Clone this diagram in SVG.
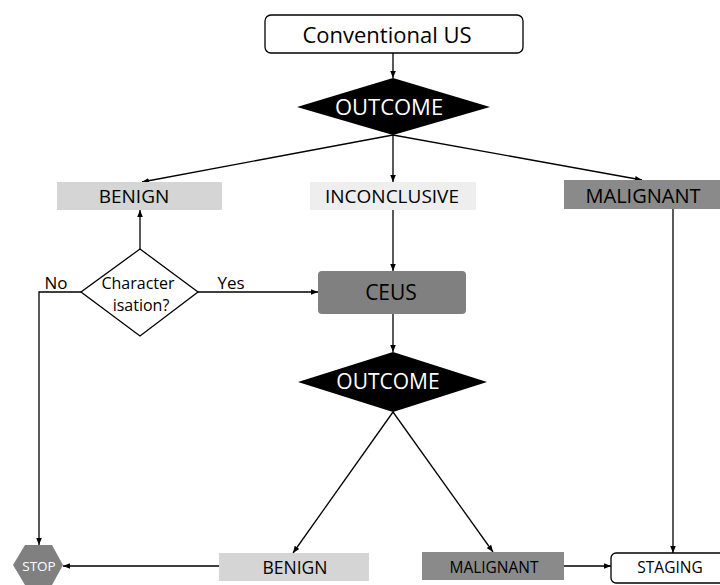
<svg xmlns="http://www.w3.org/2000/svg" width="720" height="585" viewBox="0 0 720 585">
<defs>
<style>
text{font-family:"Open Sans","Noto Sans","Liberation Sans",sans-serif;text-anchor:middle;dominant-baseline:central;fill:#000}
.c line,.c polyline{stroke:#000;stroke-width:1.3;fill:none}
.a{marker-end:url(#ah)}
.w{fill:#fff}
</style>
<marker id="ah" viewBox="0 0 10 10" refX="10" refY="5" markerWidth="7" markerHeight="7" markerUnits="userSpaceOnUse" orient="auto">
<path d="M0,1 L10,5 L0,9 z" fill="#000"/>
</marker>
</defs>
<rect width="720" height="585" fill="#fff"/>
<g class="c" id="connectors">
<line class="a" x1="393" y1="53" x2="393" y2="78"/>
<line class="a" x1="393" y1="135" x2="142" y2="182"/>
<line class="a" x1="393" y1="135" x2="393" y2="182"/>
<line class="a" x1="393" y1="135" x2="642" y2="180"/>
<line class="a" x1="140" y1="249" x2="140" y2="210"/>
<line class="a" x1="198" y1="292" x2="318" y2="292"/>
<polyline class="a" points="81,292 39,292 39,545"/>
<line class="a" x1="393" y1="210" x2="393" y2="271"/>
<line class="a" x1="393" y1="314" x2="393" y2="352"/>
<line class="a" x1="393" y1="412" x2="293" y2="553"/>
<line class="a" x1="393" y1="412" x2="493" y2="552"/>
<line class="a" x1="673" y1="209" x2="673" y2="553"/>
<line class="a" x1="219" y1="566" x2="63" y2="566"/>
<line class="a" x1="564" y1="566" x2="611" y2="566"/>
</g>
<g id="conventional">
<rect x="265" y="15" width="258" height="38" rx="6" fill="#fff" stroke="#000" stroke-width="1.3"/>
<text x="387" y="34" font-size="22">Conventional US</text>
</g>
<g id="outcome1">
<polygon points="393,78 490,107 393,135 297,107" fill="#000"/>
<text class="w" x="389" y="106" font-size="22">OUTCOME</text>
</g>
<g id="benign1">
<rect x="57" y="182" width="165" height="28" fill="#d5d5d5"/>
<text x="134" y="196" font-size="19">BENIGN</text>
</g>
<g id="inconclusive">
<rect x="310" y="182" width="166" height="28" fill="#eeeeee"/>
<text x="392" y="196" font-size="19">INCONCLUSIVE</text>
</g>
<g id="malignant1">
<rect x="564" y="180" width="156" height="29" fill="#8a8a8a"/>
<text x="643" y="195" font-size="20">MALIGNANT</text>
</g>
<g id="characterisation">
<polygon points="140,249 198,292 140,336 81,292" fill="#fff" stroke="#000" stroke-width="1.3"/>
<text x="138" y="283" font-size="16">Character</text>
<text x="141" y="305" font-size="16">isation?</text>
</g>
<text x="56" y="282" font-size="17">No</text>
<text x="231" y="282" font-size="17">Yes</text>
<g id="ceus">
<rect x="318" y="271" width="148" height="43" rx="4" fill="#808080"/>
<text x="391" y="292" font-size="21">CEUS</text>
</g>
<g id="outcome2">
<polygon points="393,352 487,382 393,412 298,382" fill="#000"/>
<text class="w" x="388" y="381" font-size="21">OUTCOME</text>
</g>
<g id="stop">
<polygon points="13,565 25,545 52,545 63,565 52,585 25,585" fill="#808080"/>
<text class="w" x="39" y="566" font-size="13.5">STOP</text>
</g>
<g id="benign2">
<rect x="219" y="553" width="150" height="28" fill="#d5d5d5"/>
<text x="295" y="567" font-size="17.5">BENIGN</text>
</g>
<g id="malignant2">
<rect x="422" y="552" width="142" height="28" fill="#8a8a8a"/>
<text x="494" y="567" font-size="15.5">MALIGNANT</text>
</g>
<g id="staging">
<rect x="611" y="553" width="118" height="30" rx="5" fill="#fff" stroke="#000" stroke-width="1.3"/>
<text x="670" y="567" font-size="15.5">STAGING</text>
</g>
</svg>
